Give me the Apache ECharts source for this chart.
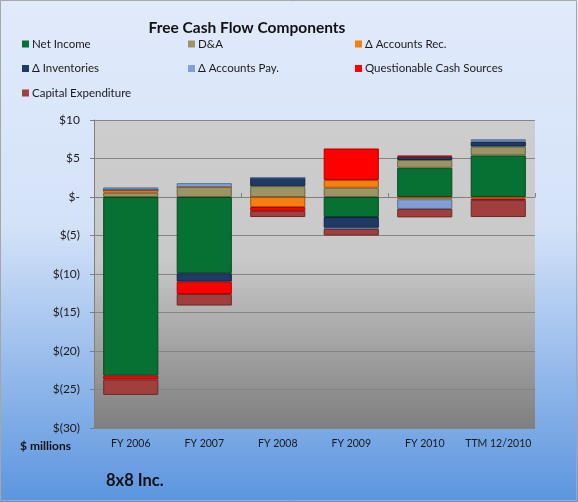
<!DOCTYPE html>
<html>
<head>
<meta charset="utf-8">
<script src="https://cdn.jsdelivr.net/npm/echarts@6/dist/echarts.min.js"></script>
<style>
  html, body { margin: 0; padding: 0; background: #ffffff; }
  #chart { width: 578px; height: 502px; }
</style>
</head>
<body>
<div id="chart"></div>
<script>
// ---- Data ($ millions) ----
var categories = ['FY 2006', 'FY 2007', 'FY 2008', 'FY 2009', 'FY 2010', 'TTM 12/2010'];
var netIncome      = [-23.2, -9.9, 0,    -2.6,  3.8,  5.4];
var depAmort       = [0.55,  1.3,  1.4,   1.2,  1.0,  1.15];
var accountsRec    = [0.4,   0,   -1.3,   1.0, -0.3, -0.2];
var inventories    = [0,    -1.1,  1.1,  -1.4,  0.43, 0.65];
var accountsPay    = [0.3,   0.5,  0,    -0.15,-1.25, 0.3];
var questionable   = [-0.5, -1.6, -0.5,   4.1,  0.15,-0.2];
var capEx          = [-2.0, -1.5, -0.8,  -0.85,-1.1, -2.2];
var yTicks = { min: -30, max: 10, interval: 5 };

var seriesNames = ['Net Income', 'D&A', 'Δ Accounts Rec.', 'Δ Inventories', 'Δ Accounts Pay.', 'Questionable Cash Sources', 'Capital Expenditure'];
var seriesData = [netIncome, depAmort, accountsRec, inventories, accountsPay, questionable, capEx];
var colors  = ['#077033', '#9c9463', '#f77e10', '#1f3a66', '#7f9fd5', '#ff0000', '#a03f3e'];
var borders = ['#034a20', '#6a6440', '#a8540a', '#12233e', '#57729c', '#b00000', '#6c2928'];

var font = 'Lato, "Open Sans", sans-serif';

var series = seriesNames.map(function (name, i) {
  return {
    name: name,
    type: 'bar',
    stack: 'fcf',
    xAxisIndex: 0,
    yAxisIndex: 0,
    barWidth: '75%',
    data: seriesData[i],
    itemStyle: { color: colors[i], borderColor: borders[i], borderWidth: 1 },
    emphasis: { disabled: true }
  };
});

function legendCol(names, left) {
  return {
    orient: 'vertical',
    left: left,
    top: 33,
    itemGap: 12.5,
    itemWidth: 7,
    itemHeight: 7,
    itemStyle: { borderWidth: 0 },
    icon: 'rect',
    data: names,
    textStyle: { fontFamily: font, fontSize: 11.5, color: '#1a1a1a', padding: [0, 0, 0, -2] }
  };
}

var chart = echarts.init(document.getElementById('chart'), null, { renderer: 'canvas' });
chart.setOption({
  animation: false,
  color: colors,
  backgroundColor: {
    type: 'linear', x: 0, y: 0, x2: 0, y2: 1,
    colorStops: [
      { offset: 0, color: '#e1eafb' },
      { offset: 0.45, color: '#d4e2f8' },
      { offset: 1, color: '#5c95df' }
    ]
  },
  title: {
    text: 'Free Cash Flow Components',
    left: 242, textAlign: 'center', top: 15,
    textStyle: { fontFamily: font, fontSize: 15.5, fontWeight: 'bold', color: '#111' }
  },
  legend: [
    legendCol(['Net Income', 'Δ Inventories', 'Capital Expenditure'], 17),
    legendCol(['D&A', 'Δ Accounts Pay.'], 183),
    legendCol(['Δ Accounts Rec.', 'Questionable Cash Sources'], 350)
  ],
  grid: {
    left: 94, right: 43, top: 120, bottom: 74,
    show: true, borderWidth: 0,
    backgroundColor: {
      type: 'linear', x: 0, y: 0, x2: 0, y2: 1,
      colorStops: [
        { offset: 0, color: '#cdcdcd' },
        { offset: 0.45, color: '#c9c9c9' },
        { offset: 1, color: '#7f7f7f' }
      ]
    }
  },
  xAxis: [
    {
      type: 'category', data: categories, position: 'bottom',
      axisLine: { show: false, onZero: false },
      axisTick: { show: false },
      axisLabel: { interval: 0, margin: 10, fontFamily: font, fontSize: 10.5, color: '#1a1a1a' }
    },
    {
      type: 'category', data: categories, position: 'bottom',
      axisLine: { show: true, onZero: true, onZeroAxisIndex: 0, lineStyle: { color: '#7f7f7f', width: 1 } },
      axisTick: { show: true, inside: true, length: 4, lineStyle: { color: '#7f7f7f' } },
      axisLabel: { show: false }
    }
  ],
  yAxis: {
    type: 'value', min: yTicks.min, max: yTicks.max, interval: yTicks.interval,
    axisLine: { show: true, lineStyle: { color: '#7f7f7f' } },
    axisTick: { show: true, length: 4, lineStyle: { color: '#7f7f7f' } },
    splitLine: { show: true, lineStyle: { color: '#858585', width: 1 } },
    axisLabel: {
      margin: 14, fontFamily: font, fontSize: 12, color: '#1a1a1a',
      formatter: function (v) {
        if (v === 0) return '$-';
        if (v < 0) return '$(' + (-v) + ')';
        return '$' + v;
      }
    }
  },
  graphic: [
    {
      type: 'text', left: 20, top: 440,
      style: { text: '$ millions', font: 'bold 12px ' + font, fill: '#111' }
    },
    {
      type: 'text', left: 106, top: 472,
      style: { text: '8x8 Inc.', font: 'bold 16.5px ' + font, fill: '#111' }
    },
    {
      type: 'rect', silent: true, z: 100,
      shape: { x: 0.5, y: 0.5, width: 576, height: 500 },
      style: { fill: 'none', stroke: '#a6a6a6', lineWidth: 1 }
    }
  ],
  series: series
});
</script>
</body>
</html>
